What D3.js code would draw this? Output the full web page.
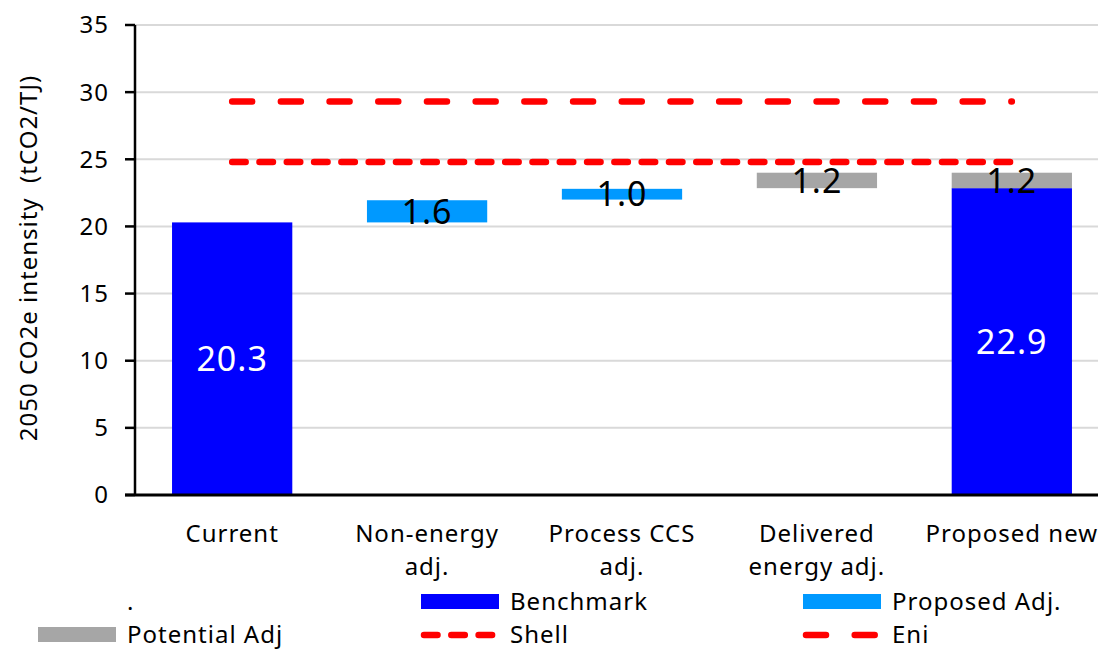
<!DOCTYPE html>
<html>
<head>
    <meta charset="utf-8">
    <title>co2-waterfall</title>
    <style>
body { margin: 0; background: #fff; }
text { font-family: "Noto Sans", sans-serif; letter-spacing: 1px; }
.grid line { stroke: #d9d9d9; stroke-width: 2; }
.tickLabel, .catLabel, .legendLabel, .axisTitle { font-size: 24px; fill: #000; }
.barLabel { font-size: 34px; }
    </style>
</head>
<body>
<script src="https://cdn.jsdelivr.net/npm/d3@7"></script>
<script>
/* Chart values */
var categories = [["Current"], ["Non-energy", "adj."], ["Process CCS", "adj."], ["Delivered", "energy adj."], ["Proposed new"]];
var baseVals     = [0, 20.3, 22.0, 22.85, 0];      // invisible floating base
var benchmark    = [20.3, 0, 0, 0, 22.85];
var proposedAdj  = [0, 1.65, 0.8, 0, 0];
var potentialAdj = [0, 0, 0, 1.15, 1.15];
var benchmarkLabels = ["20.3", "", "", "", "22.9"];
var proposedLabels  = ["", "1.6", "1.0", "", ""];
var potentialLabels = ["", "", "", "1.2", "1.2"];
var shellValue = 24.8, eniValue = 29.3;
var yTicks = [0, 5, 10, 15, 20, 25, 30, 35];

var W = 1098, H = 650;
var plot = { left: 135, top: 25, bottom: 495, right: 1109 };

var svg = d3.select("body").append("svg")
    .attr("width", W)
    .attr("height", H);

var x = d3.scaleBand()
    .domain(d3.range(categories.length))
    .range([plot.left, plot.right])
    .paddingInner(0.383)
    .paddingOuter(0.19);

var y = d3.scaleLinear()
    .domain([0, 35])
    .range([plot.bottom, plot.top]);

var center = function (i) { return x(i) + x.bandwidth() / 2; };

/* gridlines */
svg.append("g").attr("class", "grid")
    .selectAll("line")
    .data(yTicks.filter(function (d) { return d > 0; }))
    .enter().append("line")
    .attr("x1", plot.left).attr("x2", W)
    .attr("y1", function (d) { return y(d); })
    .attr("y2", function (d) { return y(d); });

/* stacked series: base (hidden), benchmark, proposed adj., potential adj. */
var series = [
    { vals: benchmark, color: "#0000ff", labels: benchmarkLabels, textColor: "#fff" },
    { vals: proposedAdj, color: "#0099ff", labels: proposedLabels, textColor: "#000" },
    { vals: potentialAdj, color: "#a6a6a6", labels: potentialLabels, textColor: "#000" }
];

var cum = baseVals.slice();
series.forEach(function (s) {
    var segs = s.vals.map(function (v, i) {
        var seg = { i: i, y0: cum[i], y1: cum[i] + v, label: s.labels[i] };
        cum[i] += v;
        return seg;
    }).filter(function (d) { return d.y1 > d.y0; });

    svg.selectAll(null)
        .data(segs)
        .enter().append("rect")
        .attr("x", function (d) { return x(d.i); })
        .attr("width", x.bandwidth())
        .attr("y", function (d) { return y(d.y1); })
        .attr("height", function (d) { return y(d.y0) - y(d.y1); })
        .attr("fill", s.color);
    s.segs = segs;
});

/* reference lines */
var lines = [
    { v: shellValue, dash: "13.5,13.8" },
    { v: eniValue, dash: "20,28.7" }
];
svg.selectAll(null)
    .data(lines)
    .enter().append("line")
    .attr("x1", center(0))
    .attr("x2", center(categories.length - 1))
    .attr("y1", function (d) { return y(d.v); })
    .attr("y2", function (d) { return y(d.v); })
    .attr("stroke", "#ff0000")
    .attr("stroke-width", 6.5)
    .attr("stroke-linecap", "round")
    .attr("stroke-dasharray", function (d) { return d.dash; });

/* data labels */
series.forEach(function (s) {
    svg.selectAll(null)
        .data(s.segs.filter(function (d) { return d.label; }))
        .enter().append("text")
        .attr("class", "barLabel")
        .attr("x", function (d) { return center(d.i); })
        .attr("y", function (d) { return y((d.y0 + d.y1) / 2); })
        .attr("dy", "0.36em")
        .attr("text-anchor", "middle")
        .attr("fill", s.textColor)
        .text(function (d) { return d.label; });
});

/* axes */
svg.append("line")
    .attr("x1", plot.left).attr("x2", plot.left)
    .attr("y1", plot.top).attr("y2", plot.bottom)
    .attr("stroke", "#000").attr("stroke-width", 2.5);
svg.append("line")
    .attr("x1", plot.left - 10).attr("x2", W)
    .attr("y1", plot.bottom).attr("y2", plot.bottom)
    .attr("stroke", "#000").attr("stroke-width", 3);

svg.selectAll(null)
    .data(yTicks)
    .enter().append("line")
    .attr("x1", plot.left - 10).attr("x2", plot.left)
    .attr("y1", function (d) { return y(d); })
    .attr("y2", function (d) { return y(d); })
    .attr("stroke", "#000").attr("stroke-width", 2.5);

svg.selectAll(null)
    .data(yTicks)
    .enter().append("text")
    .attr("class", "tickLabel")
    .attr("x", plot.left - 26)
    .attr("y", function (d) { return y(d); })
    .attr("dy", "0.35em")
    .attr("text-anchor", "end")
    .text(function (d) { return d; });

/* category labels, one tspan per line */
var cat = svg.selectAll(null)
    .data(categories)
    .enter().append("text")
    .attr("class", "catLabel")
    .attr("text-anchor", "middle");
cat.selectAll("tspan")
    .data(function (d, i) { return d.map(function (t) { return { t: t, i: i }; }); })
    .enter().append("tspan")
    .attr("x", function (d) { return center(d.i); })
    .attr("y", function (d, j) { return 542 + j * 33; })
    .text(function (d) { return d.t; });

/* y axis title */
svg.append("text")
    .attr("class", "axisTitle")
    .attr("transform", "translate(37," + ((plot.top + plot.bottom) / 2 - 2) + ") rotate(-90)")
    .attr("text-anchor", "middle")
    .style("white-space", "pre")
    .text("2050 CO2e intensity  (tCO2/TJ)");

/* legend */
var legendItems = [
    { name: ".", x: 40, y: 0, type: "none" },
    { name: "Benchmark", x: 421, y: 0, type: "rect", color: "#0000ff" },
    { name: "Proposed Adj.", x: 803, y: 0, type: "rect", color: "#0099ff" },
    { name: "Potential Adj", x: 38, y: 1, type: "rect", color: "#a6a6a6" },
    { name: "Shell", x: 421, y: 1, type: "line", dash: lines[0].dash },
    { name: "Eni", x: 803, y: 1, type: "line", dash: lines[1].dash }
];
var lg = svg.selectAll(null)
    .data(legendItems)
    .enter().append("g")
    .attr("transform", function (d) { return "translate(" + d.x + "," + (602 + d.y * 33) + ")"; });

lg.filter(function (d) { return d.type === "rect"; })
    .append("rect")
    .attr("x", 0).attr("y", -8)
    .attr("width", 78).attr("height", 15)
    .attr("fill", function (d) { return d.color; });

lg.filter(function (d) { return d.type === "line"; })
    .append("line")
    .attr("x1", 3).attr("x2", 75)
    .attr("y1", 0).attr("y2", 0)
    .attr("stroke", "#ff0000")
    .attr("stroke-width", 6.5)
    .attr("stroke-linecap", "round")
    .attr("stroke-dasharray", function (d) { return d.dash; });

lg.append("text")
    .attr("class", "legendLabel")
    .attr("x", function (d) { return d.type === "none" ? 87 : 89; })
    .attr("y", 0)
    .attr("dy", "0.33em")
    .text(function (d) { return d.name; });
</script>
</body>
</html>
